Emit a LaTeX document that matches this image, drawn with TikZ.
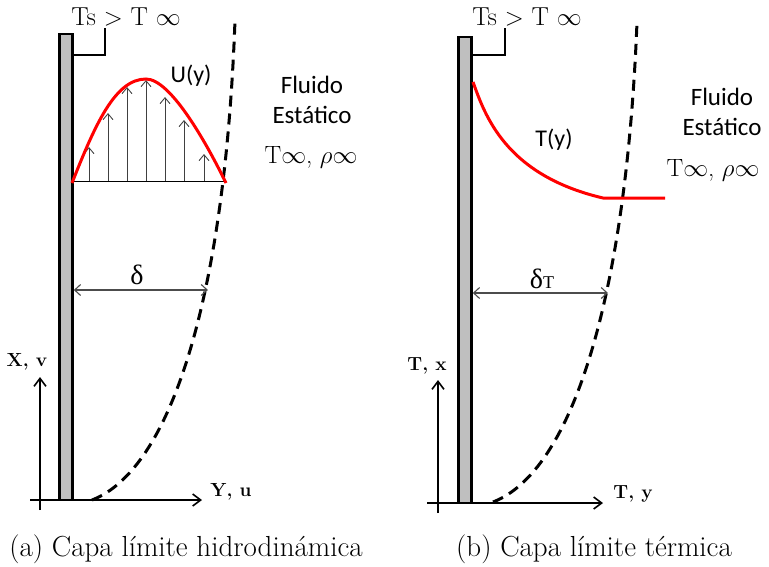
\documentclass[tikz,border=0pt]{standalone}
\usepackage{fontspec}
\usepackage{amsmath}
\usetikzlibrary{positioning, arrows.meta}
\newfontfamily\calfont{Carlito}
\newfontfamily\tnrfont{Liberation Serif}

\begin{document}
\begin{tikzpicture}[
    x=1pt, y=-1pt,
    wall/.style={
        rectangle,
        draw=black,
        line width=2.6pt,
        fill=gray!50,
        minimum width=13pt,
        minimum height=466pt,
        inner sep=0pt
    },
    brk/.style={line width=1.8pt},
    prof/.style={red, line width=3pt},
    vec/.style={
        draw=black!75,
        line width=0.9pt,
        -{Straight Barb[length=6pt,width=10pt]}
    },
    boundary/.style={line width=3pt, dash pattern=on 11pt off 7pt},
    dim/.style={
        draw=black!70,
        line width=1.1pt,
        {Straight Barb[length=6pt,width=11pt]}-{Straight Barb[length=6pt,width=11pt]}
    },
    axis/.style={
        line width=1.6pt,
        -{Straight Barb[length=8pt,width=12pt]}
    },
    fluid/.style={font=\calfont\fontsize{25}{30}\selectfont, align=center, inner sep=0pt},
    prop/.style={font=\fontsize{25}{28}\selectfont, inner sep=0pt},
    cond/.style={font=\fontsize{26}{28}\selectfont, inner sep=2pt},
    axlbl/.style={font=\bfseries\fontsize{19}{21}\selectfont, inner sep=0pt},
    capt/.style={font=\fontsize{29}{32}\selectfont, inner sep=0pt}
]
\useasboundingbox (0,0) rectangle (769,566);

% (a) capa limite hidrodinamica
\coordinate (xA0) at (40,510);
\coordinate (xA1) at (40,377);
\coordinate (yA0) at (30,500);
\coordinate (yA1) at (202,500);
\draw[axis] (xA0) -- (xA1);
\draw[axis] (yA0) -- (yA1);
\node[axlbl] (xvA) at (27,362) {X, v};
\node[axlbl] (yuA) at (231,492) {Y, u};

\draw[boundary] (92,500) .. controls (170,470) and (225,300) .. (235,20);

\node[wall] (wallA) at (66,267) {};
\node[cond] (tsA) at (126,17) {Ts $>$ T $\infty$};
\coordinate (brA) at (105,55);
\draw[brk] (wallA.east |- brA) -- (brA) -- (brA |- tsA.south);

\draw[line width=1pt] (73,181) -- (225,181);
\draw[vec] (89,181) -- (89,147);
\draw[vec] (108,181) -- (108,113);
\draw[vec] (127,181) -- (127,87);
\draw[vec] (146,181) -- (146,80);
\draw[vec] (165,181) -- (165,97);
\draw[vec] (184,181) -- (184,120);
\draw[vec] (204,181) -- (204,154);
\draw[prof] (72,183) .. controls (95,125) and (115,79) .. (146,79)
    .. controls (170,79) and (205,140) .. (226,183);
\node[font=\calfont\fontsize{24}{26}\selectfont] (uy) at (191,76) {U(y)};

\coordinate (dA) at (208,290);
\draw[dim] (wallA.east |- dA) -- (dA);
\node[font=\tnrfont\fontsize{28}{30}\selectfont] (deltaA) at (137,275) {δ};

\node[fluid] (fluA) at (312,100) {Fluido\\Estático};
\node[prop] (propA) at (311,157) {T$\infty$, $\rho\infty$};

\node[capt] (captA) at (186,549) {(a) Capa límite hidrodinámica};

% (b) capa limite termica
\coordinate (xB0) at (438,513);
\coordinate (xB1) at (438,380);
\coordinate (yB0) at (427,503);
\coordinate (yB1) at (603,503);
\draw[axis] (xB0) -- (xB1);
\draw[axis] (yB0) -- (yB1);
\node[axlbl] (txB) at (427,366) {T, x};
\node[axlbl] (tyB) at (633,494) {T, y};

\draw[boundary] (493,502) .. controls (571,472) and (626,302) .. (637,22);

\node[wall] (wallB) at (465,270) {};
\node[cond] (tsB) at (527,17) {Ts $>$ T $\infty$};
\coordinate (brB) at (505,55);
\draw[brk] (wallB.east |- brB) -- (brB) -- (brB |- tsB.south);

\draw[prof] (473,82) .. controls (485,115) and (505,175) .. (603,198) -- (665,198);
\node[font=\calfont\fontsize{24}{26}\selectfont] (ty) at (554,140) {T(y)};

\coordinate (dB) at (608,293);
\draw[dim] (wallB.east |- dB) -- (dB);
\node[font=\tnrfont\fontsize{28}{30}\selectfont] (deltaB) at (542,279) {δ{\fontsize{18}{20}\selectfont T}};

\node[fluid] (fluB) at (722,112) {Fluido\\Estático};
\node[prop] (propB) at (713,170) {T$\infty$, $\rho\infty$};

\node[capt] (captB) at (594,549) {(b) Capa límite térmica};

\end{tikzpicture}
\end{document}
